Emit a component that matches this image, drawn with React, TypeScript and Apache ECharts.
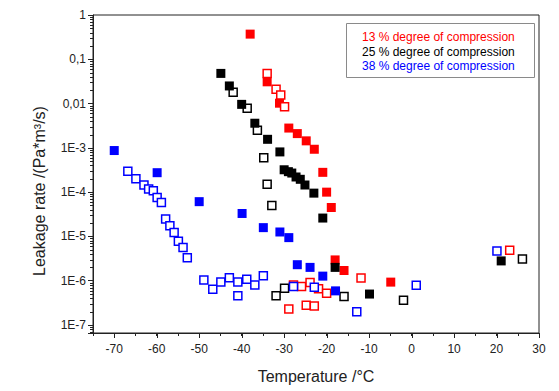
import React, { useEffect, useRef } from "react";
import * as echarts from "echarts";

// Temperature (°C), leakage rate (Pa*m³/s)
const red13Filled: [number, number][] = [
  [-38, 0.37], [-34, 0.031], [-31.1, 0.0102], [-28.9, 0.0028], [-26.9, 0.0021],
  [-24.8, 0.00144], [-22.9, 9.3e-4], [-20.9, 2.8e-4], [-20, 1.0e-4], [-18.9, 4.5e-5],
  [-18, 2.95e-6], [-15.9, 1.7e-6], [-4.9, 9.3e-7],
];
const red13Open: [number, number][] = [
  [-34, 0.048], [-31.9, 0.021], [-30.8, 0.0157], [-29.9, 0.0085], [-11.9, 1.15e-6],
  [-27.8, 8.0e-7], [-25.9, 7.4e-7], [-23.9, 9.1e-7], [-21.9, 6.6e-7], [-20, 5.2e-7],
  [-28.9, 2.3e-7], [-24.8, 2.8e-7], [-22.9, 2.7e-7], [23.1, 4.9e-6],
];
const black25Filled: [number, number][] = [
  [-44.9, 0.048], [-42.9, 0.025], [-40, 0.0096], [-36.9, 0.0036], [-33.9, 0.00156],
  [-31, 8.1e-4], [-30, 3.2e-4], [-29, 2.9e-4], [-28.2, 2.7e-4], [-27.2, 2.2e-4],
  [-26.2, 1.95e-4], [-25.1, 1.45e-4], [-23, 9.5e-5], [-20.9, 2.6e-5], [-18, 2.0e-6],
  [-9.9, 5.0e-7], [21.1, 2.8e-6],
];
const black25Open: [number, number][] = [
  [-42, 0.018], [-38.7, 0.0078], [-36.3, 0.0025], [-34.8, 6.0e-4], [-34, 1.5e-4],
  [-32.9, 5.0e-5], [-31.9, 4.6e-7], [-29.9, 6.8e-7], [-15.9, 4.4e-7], [-1.9, 3.6e-7],
  [26.1, 3.1e-6],
];
const blue38Filled: [number, number][] = [
  [-70, 8.7e-4], [-59.9, 2.75e-4], [-50, 6.1e-5], [-39.9, 3.3e-5], [-34.9, 1.58e-5],
  [-31, 1.26e-5], [-28.9, 9.4e-6], [-26.9, 2.3e-6], [-23.9, 2.0e-6], [-20.9, 1.27e-6],
  [-17.9, 5.9e-7],
];
const blue38Open: [number, number][] = [
  [-66.8, 2.95e-4], [-64.9, 2.0e-4], [-63, 1.45e-4], [-61.9, 1.18e-4], [-60.8, 1.07e-4],
  [-59.9, 7.6e-5], [-58.9, 5.8e-5], [-57.9, 2.46e-5], [-56.9, 1.75e-5], [-55.9, 1.22e-5],
  [-54.9, 7.8e-6], [-53.8, 5.6e-6], [-52.8, 3.3e-6], [-48.9, 1.04e-6], [-46.8, 6.4e-7],
  [-44.9, 9.3e-7], [-42.9, 1.17e-6], [-40.9, 9.3e-7], [-40.9, 4.6e-7], [-38.8, 1.08e-6],
  [-36.9, 8.0e-7], [-34.9, 1.3e-6], [-27.8, 7.4e-7], [-22.9, 7.1e-7], [-12.9, 2.0e-7],
  [1.1, 7.9e-7], [20.1, 4.7e-6],
];

const legendLabels = [
  "13 % degree of compression",
  "25 % degree of compression",
  "38 % degree of compression",
];
const groupColors = ["#ff0000", "#000000", "#0000ff"];
const xMajorTicks = [-70, -60, -50, -40, -30, -20, -10, 0, 10, 20, 30];

const FONT = "'Liberation Sans', Arial, sans-serif";

function fmtY(v: number): string {
  const l = Math.log10(v);
  const e = Math.round(l);
  if (Math.abs(l - e) > 1e-6) return "";
  if (e === 0) return "1";
  if (e === -1) return "0,1";
  if (e === -2) return "0,01";
  return "1E" + e;
}

export default function App() {
  const ref = useRef<HTMLDivElement>(null);
  useEffect(() => {
    if (!ref.current) return;
    const chart = echarts.init(ref.current, undefined, { renderer: "svg" });
    const filled = (color: string, data: [number, number][]) => ({
      type: "scatter",
      data,
      symbol: "rect",
      symbolSize: 9,
      itemStyle: { color, opacity: 1 },
      emphasis: { disabled: true },
    });
    const open = (color: string, data: [number, number][]) => ({
      type: "scatter",
      data,
      symbol: "rect",
      symbolSize: 8,
      itemStyle: { color: "#ffffff", borderColor: color, borderWidth: 1.5, opacity: 1 },
      emphasis: { disabled: true },
    });
    const legendGraphic = {
      type: "group",
      children: [
        {
          type: "rect",
          shape: { x: 346.5, y: 23.5, width: 188, height: 54 },
          style: { fill: "#ffffff", stroke: "#8a8a8a", lineWidth: 1 },
        },
        ...legendLabels.map((t, i) => ({
          type: "text",
          x: 362,
          y: 37 + i * 14.5,
          style: {
            text: t,
            fill: groupColors[i],
            font: `12px ${FONT}`,
            verticalAlign: "middle",
            align: "left",
          },
        })),
      ],
    };
    const yName = {
      type: "text",
      x: 39,
      y: 191,
      rotation: Math.PI / 2,
      style: {
        text: "Leakage rate /(Pa*m³/s)",
        fill: "#222",
        font: `16px ${FONT}`,
        align: "center",
        verticalAlign: "middle",
      },
    };
    chart.setOption({
      animation: false,
      grid: {
        left: 93,
        top: 15,
        right: 20,
        bottom: 58,
        show: true,
        borderColor: "#222",
        borderWidth: 1,
        backgroundColor: "transparent",
      },
      xAxis: {
        type: "value",
        min: -75,
        max: 30,
        interval: 5,
        name: "Temperature /°C",
        nameLocation: "middle",
        nameGap: 35,
        nameTextStyle: { fontFamily: FONT, fontSize: 16, color: "#222" },
        axisLine: { show: true, onZero: false, lineStyle: { color: "#222", width: 1 } },
        axisTick: { show: true, inside: false, length: 3, lineStyle: { color: "#222" } },
        axisLabel: {
          fontFamily: FONT,
          fontSize: 12,
          color: "#222",
          margin: 10,
          formatter: (v: number) => (Math.round(v) % 10 === 0 && v > -75 ? String(v) : ""),
        },
        splitLine: { show: false },
      },
      yAxis: {
        type: "log",
        logBase: 10,
        min: 6.6e-8,
        max: 1,
        axisLine: { show: true, onZero: false, lineStyle: { color: "#222", width: 1 } },
        axisTick: { show: true, inside: false, length: 5, lineStyle: { color: "#222" } },
        axisLabel: {
          fontFamily: FONT,
          fontSize: 12,
          color: "#222",
          margin: 7,
          formatter: (v: number) => fmtY(v),
        },
        splitLine: { show: false },
      },
      series: [
        filled(groupColors[0], red13Filled),
        open(groupColors[0], red13Open),
        open(groupColors[1], black25Open),
        filled(groupColors[1], black25Filled),
        open(groupColors[2], blue38Open),
        filled(groupColors[2], blue38Filled),
      ],
      graphic: [legendGraphic, yName],
    });

    // extra tick marks: long x major ticks, y minor ticks at 2..9 per decade
    const x0 = chart.convertToPixel({ xAxisIndex: 0 }, -75) as number;
    const yBottom = chart.convertToPixel({ yAxisIndex: 0 }, 6.6e-8) as number;
    const yTop = chart.convertToPixel({ yAxisIndex: 0 }, 1) as number;
    const tickLines: any[] = [];
    xMajorTicks.forEach((t) => {
      const px = Math.round(chart.convertToPixel({ xAxisIndex: 0 }, t) as number) + 0.5;
      tickLines.push({
        type: "line",
        shape: { x1: px, y1: yBottom, x2: px, y2: yBottom + 5 },
        style: { stroke: "#222", lineWidth: 1 },
        silent: true,
      });
    });
    for (let e = -8; e < 0; e++) {
      for (let k = 2; k <= 9; k++) {
        const v = k * Math.pow(10, e);
        if (v < 6.6e-8 || v > 1) continue;
        const py = Math.round(chart.convertToPixel({ yAxisIndex: 0 }, v) as number) + 0.5;
        if (py > yBottom || py < yTop) continue;
        tickLines.push({
          type: "line",
          shape: { x1: x0 - 3, y1: py, x2: x0, y2: py },
          style: { stroke: "#222", lineWidth: 1 },
          silent: true,
        });
      }
    }
    chart.setOption({ graphic: [legendGraphic, yName, ...tickLines] }, { replaceMerge: ["graphic"] });

    return () => chart.dispose();
  }, []);
  return (
    <div
      ref={ref}
      style={{ position: "fixed", left: 0, top: 0, width: 559, height: 391, background: "#fff" }}
    />
  );
}
